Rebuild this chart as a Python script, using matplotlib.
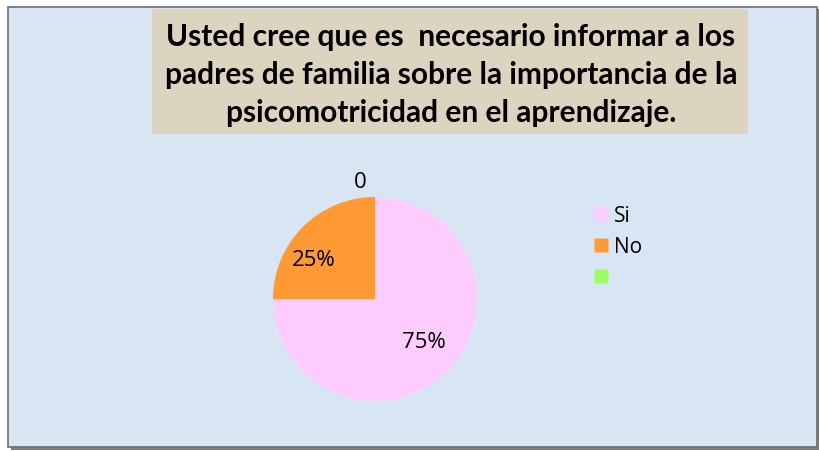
import numpy as np
import matplotlib.pyplot as plt
from matplotlib.patches import Rectangle
from matplotlib.lines import Line2D

labels = ['Si', 'No', '']
values = [75, 25, 0]
pct_text = ['75%', '25%', '0']
colors = ['#ffccff', '#ff9933', '#99ff66']
title = ('Usted cree que es  necesario informar a los\n'
         'padres de familia sobre la importancia de la\n'
         'psicomotricidad en el aprendizaje.')

W, H = 820, 452
fig = plt.figure(figsize=(8.2, 4.52), dpi=100)
fig.patch.set_facecolor('white')

# chart area frame with shadow
fig.patches.append(Rectangle((11 / W, 1 - 451 / H), 809 / W, 441 / H,
                             transform=fig.transFigure, facecolor='#7f7f7f',
                             edgecolor='none', zorder=0))
fig.patches.append(Rectangle((8 / W, 1 - 448 / H), 809 / W, 440 / H,
                             transform=fig.transFigure, facecolor='#d8e6f4',
                             edgecolor='#6e6e6e', linewidth=1.2, zorder=1))
# title box
fig.patches.append(Rectangle((152 / W, 1 - 135 / H), 596 / W, 125 / H,
                             transform=fig.transFigure, facecolor='#ddd4c0',
                             edgecolor='none', zorder=2))
fig.text(451 / W, 1 - 75 / H, title, ha='center', va='center',
         fontsize=21.5, fontweight='bold', family='Lato', linespacing=1.42,
         color='black', zorder=3)

ax = fig.add_axes([273 / W, 1 - 402 / H, 204 / W, 204 / H])
ax.set_zorder(5)
wedges, texts, autotexts = ax.pie(values, colors=colors, startangle=90,
                                  counterclock=False, autopct='%1.0f%%',
                                  wedgeprops=dict(linewidth=0),
                                  textprops=dict(fontsize=16, family='Open Sans'))
ax.set_xlim(-1, 1)
ax.set_ylim(-1, 1)
ax.set_aspect('equal')

# label placement like the original (distance from centre, angle nudge)
dist = [0.63, 0.72, 1.16]
nudge = [4, 12, 7]
for w, t, s, d, n in zip(wedges, autotexts, pct_text, dist, nudge):
    ang = np.deg2rad((w.theta1 + w.theta2) / 2 + n)
    t.set_text(s)
    t.set_position((d * np.cos(ang), d * np.sin(ang)))

handles = [Line2D([], [], linestyle='none', marker='s', markersize=10,
                  markerfacecolor=c, markeredgecolor='none') for c in colors]
leg = fig.legend(handles, labels, loc='upper left',
                 bbox_to_anchor=(574 / W, 1 - 187 / H), frameon=False,
                 handlelength=0.75, handletextpad=0.25,
                 labelspacing=0.5, prop=dict(family='Open Sans', size=15))
leg.set_zorder(6)

fig.savefig('out.png', dpi=100)
